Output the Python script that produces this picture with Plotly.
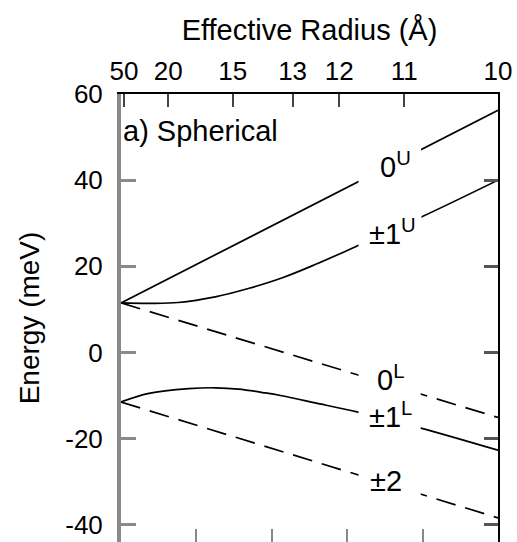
import plotly.graph_objects as go

# ---- data (x = 1000 / R^3, R in Å) ----
radius_ticks = [50, 20, 15, 13, 12, 11, 10]
energy_ticks = [-40, -20, 0, 20, 40, 60]
energy_ticktext = ["-40", "-20", "0", "20", "40", "60"]
bottom_ticks = [0.2, 0.4, 0.6, 0.8]

x_0U = [0.0, 1.0]
e_0U = [11.5, 56.2]

x_1U = [0.0, 0.08, 0.152, 0.25, 0.34, 0.43, 0.515, 0.626, 0.798, 1.0]
e_1U = [11.5, 11.4, 11.6, 12.9, 14.9, 17.4, 20.4, 24.7, 31.5, 40.0]

x_0L = [0.0, 1.0]
e_0L = [11.5, -15.1]

x_1L = [0.0, 0.074, 0.18, 0.25, 0.312, 0.383, 0.423, 0.515, 0.626, 0.793, 1.0]
e_1L = [-11.5, -9.5, -8.4, -8.2, -8.5, -9.4, -10.0, -11.7, -13.8, -17.5, -22.7]

x_2 = [0.0, 1.0]
e_2 = [-11.5, -38.4]

labels = ["0<sup>U</sup>", "±1<sup>U</sup>", "0<sup>L</sup>", "±1<sup>L</sup>", "±2"]
label_x = [0.727, 0.719, 0.715, 0.715, 0.704]
label_e = [43.5, 27.9, -6.0, -14.5, -29.9]
# white gaps cut into the curves behind the labels
gap_x0 = [0.630, 0.630, 0.630, 0.630, 0.630]
gap_x1 = [0.796, 0.797, 0.795, 0.795, 0.795]
gap_y0 = [34.4, 22.3, -11.5, -19.8, -35.0]
gap_y1 = [49.5, 33.5, -3.0, -12.5, -26.0]

top_tickvals = [1000.0 / r ** 3 for r in radius_ticks]
top_ticktext = [str(r) for r in radius_ticks]

FONT = "Liberation Sans, Arial, Helvetica, sans-serif"
LW = 1.7

fig = go.Figure()
solid = dict(color="black", width=LW)
dashed = dict(color="black", width=LW, dash="20px,10px")
fig.add_trace(go.Scatter(x=x_0U, y=e_0U, mode="lines", line=solid))
fig.add_trace(go.Scatter(x=x_1U, y=e_1U, mode="lines", line=dict(**solid, shape="spline")))
fig.add_trace(go.Scatter(x=x_0L, y=e_0L, mode="lines", line=dashed))
fig.add_trace(go.Scatter(x=x_1L, y=e_1L, mode="lines", line=dict(**solid, shape="spline")))
fig.add_trace(go.Scatter(x=x_2, y=e_2, mode="lines", line=dashed))

shapes = []
for a, b, c, d in zip(gap_x0, gap_x1, gap_y0, gap_y1):
    shapes.append(dict(type="rect", xref="x", yref="y", x0=a, x1=b, y0=c, y1=d,
                       fillcolor="white", line=dict(width=0), layer="above"))

annotations = []
for t, lx, ly in zip(labels, label_x, label_e):
    annotations.append(dict(x=lx, y=ly, xref="x", yref="y", text=t, showarrow=False,
                            font=dict(size=29, color="black", family=FONT)))
annotations.append(dict(x=0.0, y=60, xref="x", yref="y", text="a) Spherical",
                        showarrow=False, xanchor="left", yanchor="top",
                        xshift=0, yshift=-19,
                        font=dict(size=29, color="black", family=FONT)))

YR = [-44.0, 60.0]
fig.update_layout(
    width=517, height=542, autosize=False,
    margin=dict(l=121, r=19, t=94, b=0),
    paper_bgcolor="white", plot_bgcolor="white",
    showlegend=False,
    font=dict(family=FONT, size=26, color="black"),
    shapes=shapes, annotations=annotations,
    xaxis=dict(side="top", range=[0, 1], tickvals=top_tickvals, ticktext=top_ticktext,
               ticks="inside", ticklen=13, tickwidth=2, tickcolor="#444",
               showline=True, linecolor="black", linewidth=2,
               showgrid=False, zeroline=False, ticklabelstandoff=2,
               tickfont=dict(size=26),
               title=dict(text="Effective Radius (Å)", font=dict(size=29), standoff=6)),
    xaxis2=dict(overlaying="x", side="bottom", anchor="y", range=[0, 1],
                tickvals=bottom_ticks, showticklabels=False,
                ticks="inside", ticklen=13, tickwidth=2, tickcolor="#888",
                showline=False, showgrid=False, zeroline=False),
    yaxis=dict(range=YR, tickvals=energy_ticks, ticktext=energy_ticktext,
               ticks="inside", ticklen=15,
               tickwidth=3, tickcolor="#8a8a8a",
               showline=True, linecolor="#8a8a8a", linewidth=4,
               showgrid=False, zeroline=False, ticklabelstandoff=9,
               tickfont=dict(size=26),
               title=dict(text="Energy (meV)", font=dict(size=28), standoff=18)),
    yaxis2=dict(overlaying="y", side="right", anchor="x", range=YR,
                tickvals=energy_ticks, showticklabels=False,
                ticks="inside", ticklen=14, tickwidth=2.5, tickcolor="#555",
                showline=True, linecolor="black", linewidth=2,
                showgrid=False, zeroline=False),
)
fig.add_trace(go.Scatter(x=[None], y=[None], xaxis="x2", yaxis="y2", showlegend=False))

fig.write_html("out.html")
